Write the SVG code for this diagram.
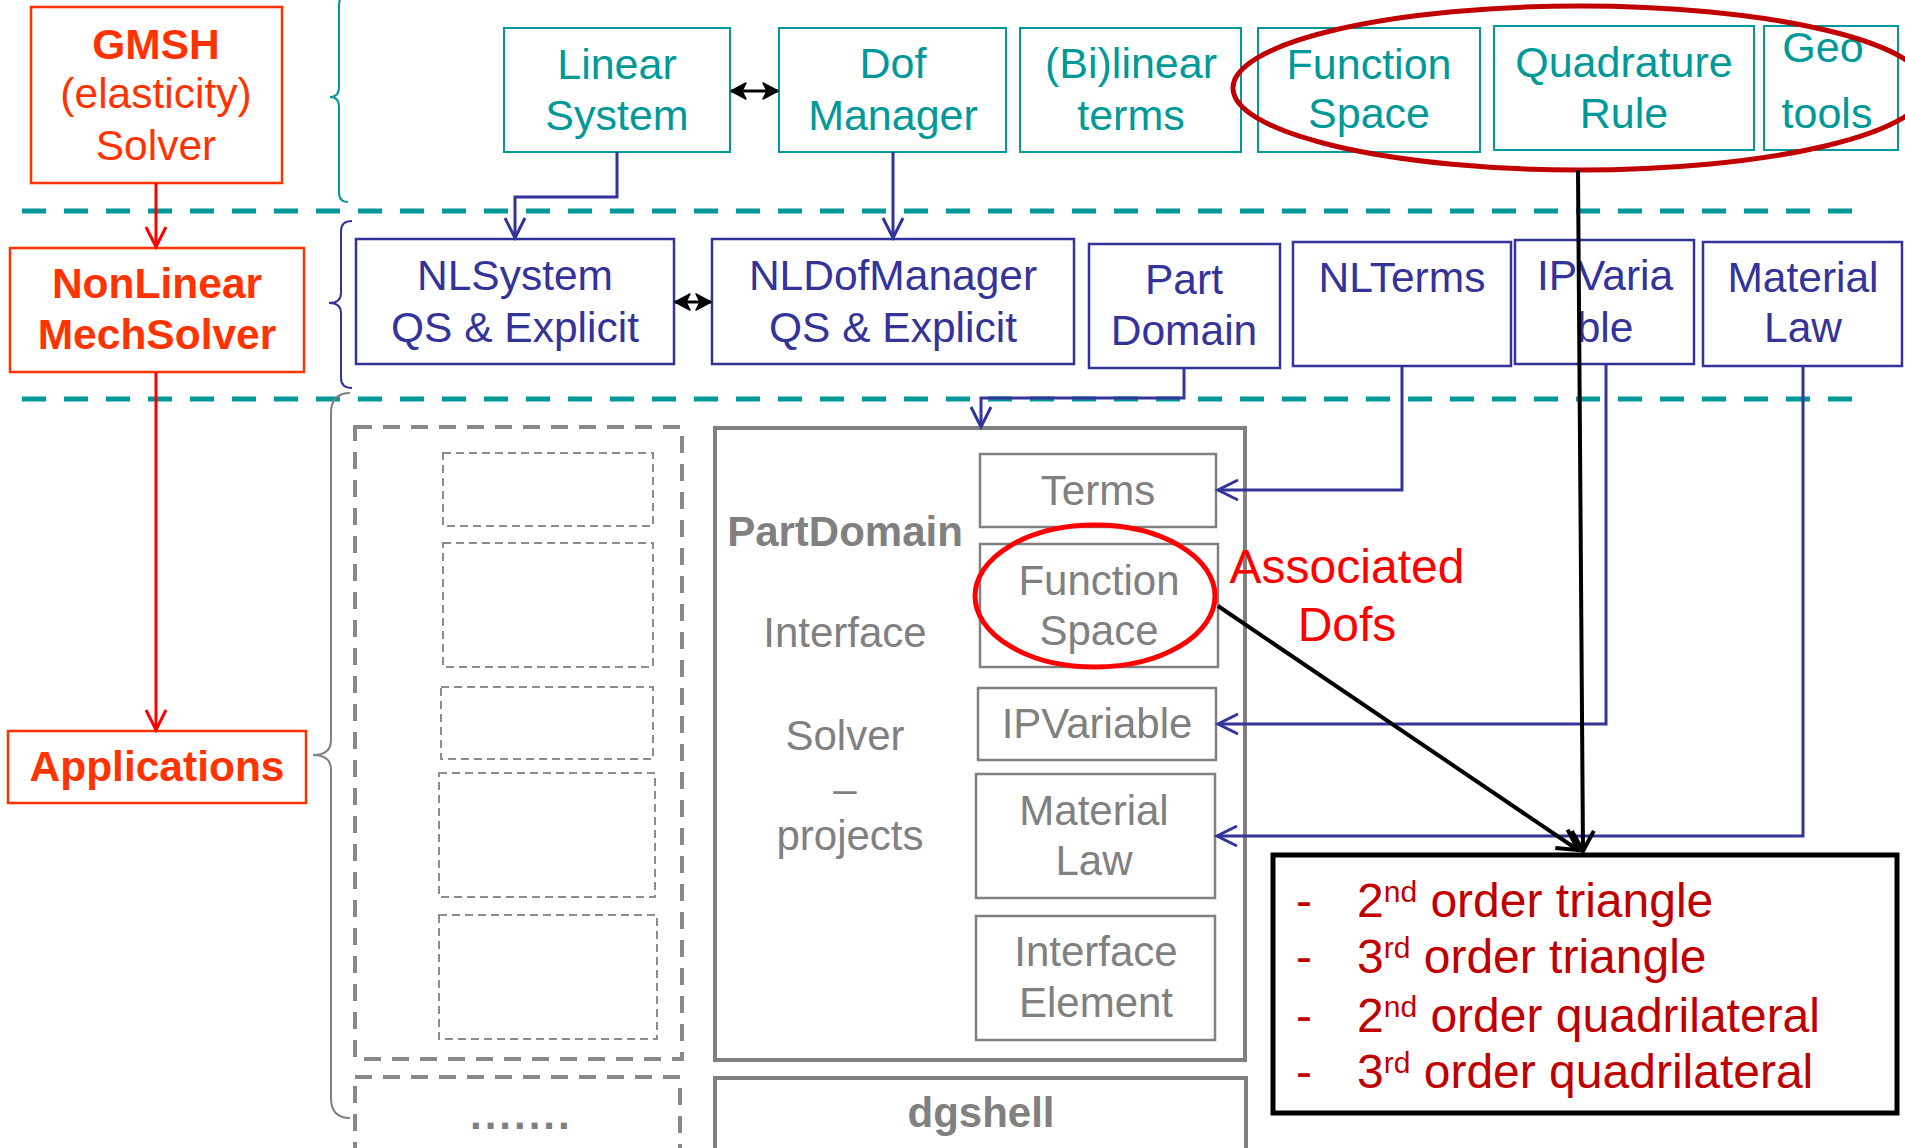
<svg xmlns="http://www.w3.org/2000/svg" width="1905" height="1148" viewBox="0 0 1905 1148">
<style>
text{font-family:"Liberation Sans",Arial,sans-serif;text-anchor:middle}
.teal{fill:none;stroke:#009999;stroke-width:2}
.blue{fill:none;stroke:#333399;stroke-width:2.5}
.orng{fill:none;stroke:#FF3300;stroke-width:2.5}
.gray{fill:none;stroke:#808080;stroke-width:2.5}
.tt{fill:#009999;font-size:43px}
.bt{fill:#333399;font-size:42.5px}
.ot{fill:#FF3300;font-size:42.5px;font-weight:bold}
.gt{fill:#808080;font-size:42px}
.dotbox{fill:none;stroke:#8C8C8C;stroke-width:2;stroke-dasharray:8 5}
.sep{stroke:#009999;stroke-width:5;stroke-dasharray:24 18}
.cb{fill:none;stroke:#333399;stroke-width:3}
.lt{fill:#C00000;font-size:48px;text-anchor:start}
</style>
<defs>
<marker id="ab" markerUnits="userSpaceOnUse" markerWidth="30" markerHeight="30" refX="0" refY="0" orient="auto" overflow="visible" viewBox="-25 -15 30 30">
<path d="M-20,-10 L0,0 L-20,10" fill="none" stroke="#333399" stroke-width="3"/>
</marker>
<marker id="ar" markerUnits="userSpaceOnUse" markerWidth="30" markerHeight="30" refX="0" refY="0" orient="auto" overflow="visible" viewBox="-25 -15 30 30">
<path d="M-20,-10 L0,0 L-20,10" fill="none" stroke="#FF0000" stroke-width="3"/>
</marker>
<marker id="ak" markerUnits="userSpaceOnUse" markerWidth="30" markerHeight="30" refX="0" refY="0" orient="auto" overflow="visible" viewBox="-25 -15 30 30">
<path d="M-20,-11 L0,0 L-20,11" fill="none" stroke="#000" stroke-width="4"/>
</marker>
<marker id="ad" markerUnits="userSpaceOnUse" markerWidth="30" markerHeight="30" refX="0" refY="0" orient="auto-start-reverse" overflow="visible" viewBox="-25 -15 30 30">
<path d="M-15,-8 L0,0 L-15,8 L-11,0 Z" fill="#000" stroke="#000" stroke-width="1.5" stroke-linejoin="round"/>
</marker>
</defs>
<rect width="1905" height="1148" fill="#fff"/>

<!-- separators -->
<g id="separators">
<line class="sep" x1="22" y1="211" x2="1852" y2="211"/>
<line class="sep" x1="22" y1="399" x2="1852" y2="399"/>
</g>

<!-- braces -->
<g id="braces" fill="none" stroke-width="2">
<path d="M348,-5 Q339,-5 339,5 L339,87 Q339,97 330,97 Q339,97 339,107 L339,192 Q339,202 348,202" stroke="#009999"/>
<path d="M352,221 Q341,221 341,231 L341,293 Q341,303 329,303 Q341,303 341,313 L341,378 Q341,388 352,388" stroke="#333399"/>
<path d="M350,393 Q331,393 331,413 L331,740 Q331,755 313,755 Q331,755 331,770 L331,1098 Q331,1118 350,1118" stroke="#808080"/>
</g>

<!-- left column -->
<g id="gmsh">
<rect class="orng" x="31" y="7" width="251" height="176"/>
<text class="ot" x="156" y="59">GMSH</text>
<text class="ot" x="156" y="108" style="font-weight:normal">(elasticity)</text>
<text class="ot" x="156" y="160" style="font-weight:normal">Solver</text>
</g>
<g id="nonlinear">
<rect class="orng" x="10" y="248" width="294" height="124"/>
<text class="ot" x="157" y="298">NonLinear</text>
<text class="ot" x="157" y="349">MechSolver</text>
</g>
<g id="applications">
<rect class="orng" x="8" y="731" width="298" height="72"/>
<text class="ot" x="157" y="781">Applications</text>
</g>

<!-- top row -->
<g id="linear-system">
<rect class="teal" x="504" y="28" width="226" height="124"/>
<text class="tt" x="617" y="79">Linear</text>
<text class="tt" x="617" y="130">System</text>
</g>
<g id="dof-manager">
<rect class="teal" x="779" y="28" width="227" height="124"/>
<text class="tt" x="893" y="78">Dof</text>
<text class="tt" x="893" y="130">Manager</text>
</g>
<g id="bilinear-terms">
<rect class="teal" x="1020" y="28" width="221" height="124"/>
<text class="tt" x="1131" y="78">(Bi)linear</text>
<text class="tt" x="1131" y="130">terms</text>
</g>
<g id="function-space">
<rect class="teal" x="1258" y="28" width="222" height="124"/>
<text class="tt" x="1369" y="79">Function</text>
<text class="tt" x="1369" y="128">Space</text>
</g>
<g id="quadrature-rule">
<rect class="teal" x="1494" y="26" width="260" height="124"/>
<text class="tt" x="1624" y="77">Quadrature</text>
<text class="tt" x="1624" y="128">Rule</text>
</g>
<g id="geo-tools">
<rect class="teal" x="1764" y="26" width="134" height="124"/>
<text class="tt" x="1823" y="62">Geo</text>
<text class="tt" x="1827" y="128">tools</text>
</g>

<!-- second row -->
<g id="nlsystem">
<rect class="blue" x="356" y="239" width="318" height="125"/>
<text class="bt" x="515" y="290">NLSystem</text>
<text class="bt" x="515" y="342">QS &amp; Explicit</text>
</g>
<g id="nldofmanager">
<rect class="blue" x="712" y="239" width="362" height="125"/>
<text class="bt" x="893" y="290">NLDofManager</text>
<text class="bt" x="893" y="342">QS &amp; Explicit</text>
</g>
<g id="part-domain">
<rect class="blue" x="1089" y="244" width="191" height="124"/>
<text class="bt" x="1184" y="294">Part</text>
<text class="bt" x="1184" y="345">Domain</text>
</g>
<g id="nlterms">
<rect class="blue" x="1293" y="242" width="218" height="124"/>
<text class="bt" x="1402" y="292">NLTerms</text>
</g>
<g id="ipvariable">
<rect class="blue" x="1515" y="240" width="179" height="124"/>
<text class="bt" x="1605" y="290">IPVaria</text>
<text class="bt" x="1605" y="342">ble</text>
</g>
<g id="material-law">
<rect class="blue" x="1703" y="242" width="199" height="124"/>
<text class="bt" x="1803" y="292">Material</text>
<text class="bt" x="1803" y="342">Law</text>
</g>

<!-- applications area -->
<g id="applications-list">
<rect x="355" y="427" width="327" height="632" fill="none" stroke="#888" stroke-width="4" stroke-dasharray="17 11"/>
<rect class="dotbox" x="443" y="453" width="210" height="73"/>
<rect class="dotbox" x="443" y="543" width="210" height="124"/>
<rect class="dotbox" x="441" y="687" width="212" height="72"/>
<rect class="dotbox" x="439" y="773" width="216" height="124"/>
<rect class="dotbox" x="439" y="915" width="218" height="124"/>
</g>
<g id="more-applications">
<rect x="355" y="1077" width="325" height="80" fill="none" stroke="#888" stroke-width="4" stroke-dasharray="17 11"/>
<text x="470" y="1129" fill="#808080" font-size="42" font-weight="bold" letter-spacing="3" style="text-anchor:start">.......</text>
</g>

<!-- PartDomain -->
<g id="partdomain-box">
<rect x="715" y="428" width="530" height="632" fill="none" stroke="#808080" stroke-width="4"/>
<text class="gt" x="845" y="546" font-size="42.5" font-weight="bold">PartDomain</text>
<text class="gt" x="845" y="647">Interface</text>
<text class="gt" x="845" y="750">Solver</text>
<text class="gt" x="845" y="803">–</text>
<text class="gt" x="850" y="850">projects</text>
</g>
<g id="pd-terms">
<rect class="gray" x="980" y="454" width="236" height="73"/>
<text class="gt" x="1098" y="505">Terms</text>
</g>
<g id="pd-function-space">
<rect class="gray" x="980" y="544" width="238" height="123"/>
<text class="gt" x="1099" y="595">Function</text>
<text class="gt" x="1099" y="645">Space</text>
</g>
<g id="pd-ipvariable">
<rect class="gray" x="978" y="688" width="238" height="72"/>
<text class="gt" x="1097" y="738">IPVariable</text>
</g>
<g id="pd-material-law">
<rect class="gray" x="976" y="774" width="239" height="124"/>
<text class="gt" x="1094" y="825">Material</text>
<text class="gt" x="1094" y="875">Law</text>
</g>
<g id="pd-interface-element">
<rect class="gray" x="976" y="916" width="239" height="124"/>
<text class="gt" x="1096" y="966">Interface</text>
<text class="gt" x="1096" y="1017">Element</text>
</g>
<g id="dgshell">
<rect x="715" y="1078" width="531" height="80" fill="none" stroke="#808080" stroke-width="4"/>
<text class="gt" x="981" y="1127" font-size="42.5" font-weight="bold">dgshell</text>
</g>

<!-- element list -->
<g id="element-list">
<rect x="1273" y="855" width="624" height="258" fill="none" stroke="#000" stroke-width="5"/>
<text class="lt" x="1296" y="917">-</text>
<text class="lt" x="1296" y="973">-</text>
<text class="lt" x="1296" y="1032">-</text>
<text class="lt" x="1296" y="1088">-</text>
<text class="lt" x="1357" y="917">2<tspan dy="-15" font-size="30">nd</tspan><tspan dy="15"> order triangle</tspan></text>
<text class="lt" x="1357" y="973">3<tspan dy="-15" font-size="30">rd</tspan><tspan dy="15"> order triangle</tspan></text>
<text class="lt" x="1357" y="1032">2<tspan dy="-15" font-size="30">nd</tspan><tspan dy="15"> order quadrilateral</tspan></text>
<text class="lt" x="1357" y="1088">3<tspan dy="-15" font-size="30">rd</tspan><tspan dy="15"> order quadrilateral</tspan></text>
</g>

<!-- annotations -->
<g id="annotations">
<ellipse cx="1580" cy="88" rx="347" ry="82" fill="none" stroke="#C00000" stroke-width="5"/>
<ellipse cx="1095" cy="596" rx="120" ry="71" fill="none" stroke="#FF0000" stroke-width="5"/>
<text x="1347" y="583" fill="#FF0000" font-size="48">Associated</text>
<text x="1347" y="641" fill="#FF0000" font-size="48">Dofs</text>
</g>

<!-- connectors -->
<g id="connectors">
<polyline class="cb" points="617,152 617,197 515,197 515,238" marker-end="url(#ab)"/>
<polyline class="cb" points="893,152 893,238" marker-end="url(#ab)"/>
<polyline class="cb" points="1184,368 1184,398 981,398 981,427" marker-end="url(#ab)"/>
<polyline class="cb" points="1402,366 1402,490 1218,490" marker-end="url(#ab)"/>
<polyline class="cb" points="1606,364 1606,724 1218,724" marker-end="url(#ab)"/>
<polyline class="cb" points="1803,366 1803,836 1217,836" marker-end="url(#ab)"/>
<line x1="731" y1="91" x2="778" y2="91" stroke="#000" stroke-width="3" marker-start="url(#ad)" marker-end="url(#ad)"/>
<line x1="675" y1="302" x2="711" y2="302" stroke="#000" stroke-width="3" marker-start="url(#ad)" marker-end="url(#ad)"/>
<line x1="156" y1="183" x2="156" y2="247" stroke="#FF0000" stroke-width="3" marker-end="url(#ar)"/>
<line x1="156" y1="372" x2="156" y2="730" stroke="#FF0000" stroke-width="3" marker-end="url(#ar)"/>
<line x1="1578" y1="170" x2="1583" y2="851" stroke="#000" stroke-width="4" marker-end="url(#ak)"/>
<line x1="1218" y1="606" x2="1578" y2="850" stroke="#000" stroke-width="4" marker-end="url(#ak)"/>
</g>
</svg>
